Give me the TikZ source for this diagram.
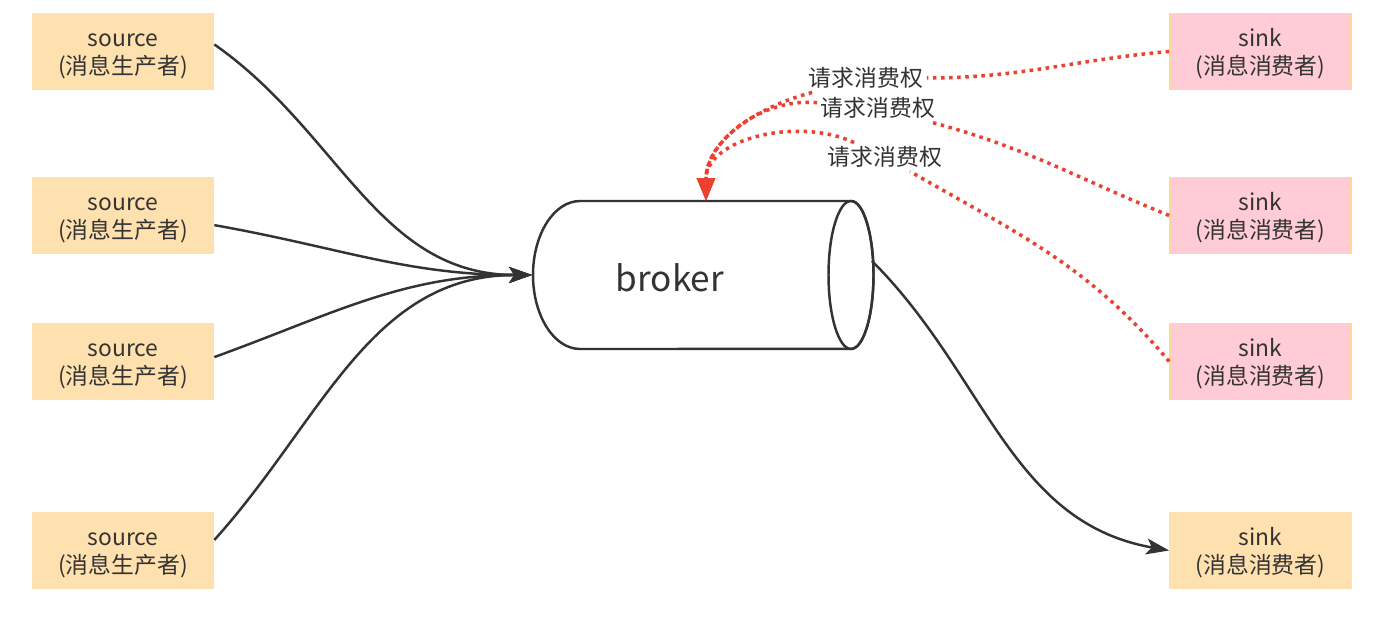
\documentclass[tikz,border=0pt]{standalone}
\usepackage{fontspec}
\setmainfont{Noto Sans CJK SC}
\usepackage{tikz}
\usetikzlibrary{arrows.meta}
\definecolor{LineDark}{RGB}{51,51,51}
\definecolor{SrcFill}{RGB}{255,225,176}
\definecolor{SinkPink}{RGB}{255,204,213}
\definecolor{BoxEdge}{RGB}{255,217,155}
\definecolor{ReqRed}{RGB}{236,64,48}
\newcommand{\boxlines}[2]{\rule{0pt}{13pt}#1\\#2}

\begin{document}
\begin{tikzpicture}[x=0.02cm,y=0.02cm,
        srcnode/.style={draw=SrcFill,fill=SrcFill,line width=1pt,
                        minimum width=3.62cm,minimum height=1.52cm,inner sep=0pt,
                        align=center,text=LineDark,font=\fontsize{13}{16}\selectfont},
        sinknode/.style={srcnode,draw=BoxEdge,fill=SinkPink},
        reqlabel/.style={fill=white,inner sep=2pt,text=LineDark,
                         font=\fontsize{13}{16}\selectfont},
        arr/.style={draw=LineDark,line width=1.4pt,
                    -{Stealth[length=13pt,width=9pt,inset=3pt]}},
        reqline/.style={draw=ReqRed,line width=2pt,dash pattern=on 2pt off 2.6pt},
        reqarr/.style={reqline,-{Triangle[length=13pt,width=10pt]}}
      ]
        \useasboundingbox (0,0) rectangle (1400,621);
        \node[srcnode]  (s1) at (123,569.5) {\boxlines{source}{(消息生产者)}};
        \node[srcnode]  (s2) at (123,405.5) {\boxlines{source}{(消息生产者)}};
        \node[srcnode]  (s3) at (123,259.5) {\boxlines{source}{(消息生产者)}};
        \node[srcnode]  (s4) at (123,70.5)  {\boxlines{source}{(消息生产者)}};
        \node[sinknode] (k1) at (1260.5,569.5) {\boxlines{sink}{(消息消费者)}};
        \node[sinknode] (k2) at (1260.5,405.5) {\boxlines{sink}{(消息消费者)}};
        \node[sinknode] (k3) at (1260.5,259.5) {\boxlines{sink}{(消息消费者)}};
        \node[srcnode]  (k4) at (1260.5,70.5)  {\boxlines{sink}{(消息消费者)}};
        \draw[draw=LineDark,line width=1.4pt,fill=white] (580,420) -- (851,420)
          arc[start angle=90,end angle=-90,x radius=0.45cm,y radius=1.48cm] -- (580,272)
          arc[start angle=270,end angle=90,x radius=0.94cm,y radius=1.48cm] -- cycle;
        \draw[draw=LineDark,line width=1.4pt] (851,346) ellipse [x radius=0.45cm,y radius=1.48cm];
        \node[text=LineDark,font=\fontsize{20}{24}\selectfont] (broker) at (670,343) {broker};
        \coordinate (bin)  at (532,346);
        \coordinate (bout) at (872,360);
        \coordinate (btop) at (706,420);
        \node[reqlabel] (l1) at (866,543) {请求消费权};
        \node[reqlabel] (l2) at (878,513) {请求消费权};
        \node[reqlabel] (l3) at (885,464) {请求消费权};
        \draw[arr] ([yshift=4pt]s1.east) to[out=-35,in=180] (bin);
        \draw[arr] ([yshift=-5.5pt]s2.east) to[out=-10,in=180] (bin);
        \draw[arr] ([yshift=2.5pt]s3.east) to[out=20,in=180] (bin);
        \draw[arr] ([yshift=6pt]s4.east) to[out=48,in=180] (bin);
        \draw[arr] (bout) to[out=-45,in=170] (k4.west);
        \draw[reqline] (k1.west) to[out=185,in=0] (l1);
        \draw[reqarr]  (l1) to[out=195,in=90] (btop);
        \draw[reqline] (k2.west) to[out=158,in=-15] (l2);
        \draw[reqarr]  (l2) to[out=175,in=90] (btop);
        \draw[reqline] (k3.west) to[out=130,in=-30] (l3);
        \draw[reqarr]  (l3) to[out=155,in=90] (btop);
      \end{tikzpicture}
\end{document}
